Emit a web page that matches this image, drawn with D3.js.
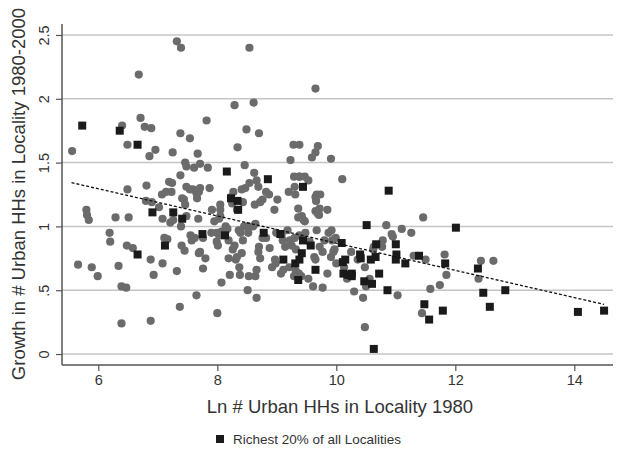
<!DOCTYPE html>
<html>
<head>
<meta charset="utf-8">
<script src="https://cdn.jsdelivr.net/npm/d3@7"></script>
<style>
  body { margin: 0; background: #fff; }
  svg { display: block; font-family: "Liberation Sans", Arial, sans-serif; }
</style>
</head>
<body>
<svg width="621" height="451"></svg>
<script>
// all localities (grey dots)
var greyX = [7.32, 7.39, 8.54, 6.68, 9.65, 8.61, 8.29,
  5.56, 6.40, 6.71, 6.78, 6.89, 6.49, 6.96, 6.86, 7.25, 7.38, 7.54, 7.82, 8.49, 8.70, 8.34, 8.46,
  7.67, 7.61, 7.48, 7.84, 7.71, 9.28, 9.38, 9.69, 9.65, 9.59, 9.23, 9.91, 9.29, 9.38, 10.10, 7.38, 7.46,
  5.80, 5.81, 5.84, 6.49, 6.81, 6.80, 7.02, 7.07, 7.14, 7.19, 7.23, 7.24, 7.41, 7.44, 7.48, 7.54, 7.59,
  7.65, 7.69, 7.66, 7.71, 7.87, 7.91, 8.05, 8.05, 8.03, 8.27, 8.23, 8.25, 8.33, 8.41, 8.43, 8.47, 8.54,
  8.62, 8.66, 8.69, 8.72, 8.63, 8.76, 8.82, 8.87, 8.96, 9.01, 9.20, 9.30, 9.31, 9.38, 9.47, 9.53, 9.65,
  9.67, 9.73, 9.66, 9.85, 9.65, 9.69, 9.72, 9.71, 9.36, 9.36, 9.42, 9.45, 9.47,
  6.19, 6.20, 6.29, 6.51, 6.48, 6.58, 6.90, 7.08, 7.11, 7.16, 7.21, 7.26, 7.39, 7.40, 7.46, 7.48, 7.55,
  7.57, 7.62, 7.68, 7.71, 7.76, 7.90, 7.95, 7.99, 7.99, 8.01, 8.05, 8.07, 8.03, 8.11, 8.14, 8.17, 8.19,
  8.19, 8.26, 8.29, 8.31, 8.33, 8.36, 8.39, 8.41, 8.43, 8.45, 8.51, 8.52, 8.60, 8.64, 8.70, 8.69, 8.76,
  8.82, 8.88, 8.97, 8.99, 9.08, 9.10, 9.14, 9.18, 9.22, 9.25, 9.30, 9.32, 9.38, 9.48, 9.55, 9.63, 9.67,
  9.72, 9.77, 9.80, 9.87, 9.92, 9.93, 9.97, 9.91, 9.99,
  5.66, 5.89, 5.99, 6.34, 6.39, 6.47, 6.88, 6.93, 7.08, 7.32, 7.45, 7.69, 7.76, 7.80, 8.07, 8.21, 8.37,
  8.38, 8.51, 8.53, 8.64, 8.66, 8.66, 8.72, 8.92, 8.98, 9.07, 9.11, 9.21, 9.32, 9.37, 9.29, 9.41, 9.53,
  9.61, 9.65, 9.77, 9.85, 9.95, 10.00, 10.13, 10.18, 10.25, 10.30, 10.36, 10.45, 10.48, 10.50, 10.56,
  10.62, 10.63, 10.77, 10.78, 10.84, 10.93, 10.95, 11.03, 11.10, 11.26, 11.30, 11.46, 11.50, 11.58,
  11.74, 11.82, 11.85, 12.43, 12.39, 12.64, 11.44, 10.48,
  6.39, 6.88, 7.37, 8.00, 7.65];
var greyY = [2.45, 2.40, 2.40, 2.19, 2.08, 1.97, 1.95,
  1.59, 1.79, 1.85, 1.78, 1.77, 1.64, 1.60, 1.55, 1.58, 1.73, 1.69, 1.83, 1.76, 1.73, 1.62, 1.48,
  1.57, 1.46, 1.47, 1.46, 1.49, 1.64, 1.64, 1.63, 1.58, 1.54, 1.52, 1.53, 1.39, 1.39, 1.37, 1.40, 1.50,
  1.13, 1.09, 1.05, 1.29, 1.32, 1.20, 1.15, 1.25, 1.27, 1.35, 1.27, 1.34, 1.22, 1.21, 1.31, 1.29, 1.29,
  1.26, 1.27, 1.22, 1.30, 1.30, 1.13, 1.17, 1.13, 1.06, 1.27, 1.23, 1.18, 1.13, 1.29, 1.19, 1.30, 1.34,
  1.42, 1.36, 1.31, 1.19, 1.17, 1.21, 1.27, 1.25, 1.13, 1.21, 1.27, 1.31, 1.25, 1.39, 1.39, 1.36, 1.23,
  1.25, 1.25, 1.20, 1.13, 1.12, 1.10, 1.14, 1.09, 1.14, 1.07, 1.08, 1.05, 1.04,
  0.95, 0.88, 1.07, 1.07, 0.85, 0.83, 1.19, 1.06, 0.91, 0.90, 1.03, 1.05, 1.00, 0.85, 1.17, 1.08, 0.93,
  0.89, 0.91, 1.06, 0.80, 0.91, 0.95, 1.04, 0.95, 0.88, 0.85, 1.08, 0.96, 0.93, 0.96, 1.00, 0.98, 0.89,
  0.75, 0.82, 0.85, 0.74, 0.76, 0.97, 0.95, 0.79, 0.89, 1.00, 1.00, 0.95, 1.00, 1.02, 0.84, 0.80, 0.91,
  0.91, 0.83, 0.74, 0.95, 0.93, 0.89, 0.84, 0.97, 0.89, 0.85, 0.91, 0.82, 0.93, 0.95, 0.88, 0.76, 0.97,
  0.84, 0.80, 0.89, 0.95, 0.97, 0.89, 0.82, 0.76, 0.91,
  0.70, 0.68, 0.61, 0.69, 0.53, 0.52, 0.74, 0.62, 0.71, 0.65, 0.81, 0.79, 0.67, 0.75, 0.56, 0.62, 0.68,
  0.62, 0.50, 0.61, 0.61, 0.44, 0.66, 0.75, 0.68, 0.71, 0.63, 0.66, 0.68, 0.65, 0.63, 0.61, 0.61, 0.59,
  0.53, 0.74, 0.52, 0.63, 0.80, 0.71, 0.68, 0.59, 0.80, 0.49, 0.74, 0.44, 0.68, 0.53, 0.59,
  0.82, 0.84, 0.84, 0.89, 1.01, 0.94, 0.92, 0.46, 0.98, 0.95, 0.77, 1.07, 0.74, 0.51,
  0.54, 0.78, 0.62, 0.73, 0.59, 0.73, 0.32, 0.21,
  0.24, 0.26, 0.37, 0.32, 0.46];

// richest 20% (black squares)
var richX = [5.73, 6.36, 6.66, 6.91, 7.26, 7.41, 6.66, 7.12, 7.75, 8.16, 8.23, 8.34, 8.35, 8.13, 8.78,
  8.85, 9.06, 9.44, 9.11, 9.31, 9.38, 9.36, 9.44, 9.42, 9.57, 9.65, 10.09, 10.11, 10.15, 10.12, 10.20,
  10.26, 10.26, 10.40, 10.41, 10.51, 10.47, 10.60, 10.58, 10.66, 10.67, 10.72, 10.63, 10.86, 10.88,
  11.00, 11.01, 11.00, 11.16, 11.39, 11.48, 11.56, 11.79, 11.83, 12.01, 12.38, 12.47, 12.58, 12.84,
  14.06, 14.50];
var richY = [1.79, 1.75, 1.64, 1.11, 1.11, 1.06, 0.78, 0.85, 0.94, 1.43, 1.22, 1.20, 1.13, 0.93, 0.95,
  1.37, 0.94, 1.31, 0.74, 0.71, 0.74, 0.58, 0.89, 0.79, 0.85, 0.66, 0.87, 0.72, 0.74, 0.63, 0.62,
  0.63, 0.61, 0.78, 0.75, 1.01, 0.57, 0.55, 0.74, 0.76, 0.86, 0.63, 0.04, 0.50, 1.28,
  0.86, 0.78, 0.74, 0.71, 0.77, 0.39, 0.27, 0.34, 0.71, 0.99, 0.67, 0.48, 0.37, 0.50,
  0.33, 0.34];

// fitted line end points
var fitX = [5.55, 14.5];
var fitY = [1.343, 0.389];

var xTicks = [6, 8, 10, 12, 14];
var yTicks = [0, 0.5, 1, 1.5, 2, 2.5];
var yTickLabels = ["0", ".5", "1", "1.5", "2", "2.5"];

var svg = d3.select("svg");

var x = d3.scaleLinear().domain([5.39, 14.65]).range([62, 613]);
var y = d3.scaleLinear().domain([-0.086, 2.586]).range([365, 24]);

// grid lines
svg.append("g")
  .selectAll("line")
  .data(yTicks)
  .enter()
  .append("line")
  .attr("x1", 62)
  .attr("x2", 613)
  .attr("y1", function(d) { return y(d); })
  .attr("y2", function(d) { return y(d); })
  .attr("stroke", "#c4c4c4")
  .attr("stroke-width", 1.5);

// dots
svg.append("g")
  .selectAll("circle")
  .data(greyX)
  .enter()
  .append("circle")
  .attr("cx", function(d) { return x(d); })
  .attr("cy", function(d, i) { return y(greyY[i]); })
  .attr("r", 4.1)
  .attr("fill", "#6b6b6b");

var sq = 8;
svg.append("g")
  .selectAll("rect")
  .data(richX)
  .enter()
  .append("rect")
  .attr("x", function(d) { return x(d) - sq / 2; })
  .attr("y", function(d, i) { return y(richY[i]) - sq / 2; })
  .attr("width", sq)
  .attr("height", sq)
  .attr("fill", "#1a1a1a");

// fit line
svg.append("path")
  .datum(fitX)
  .attr("d", d3.line()
    .x(function(d) { return x(d); })
    .y(function(d, i) { return y(fitY[i]); }))
  .attr("fill", "none")
  .attr("stroke", "#111")
  .attr("stroke-width", 1.3)
  .attr("stroke-dasharray", "3,2");

// axes
var xAxis = svg.append("g")
  .attr("transform", "translate(0,365)")
  .call(d3.axisBottom(x).tickValues(xTicks).tickSize(6).tickPadding(4).tickSizeOuter(0));
var yAxis = svg.append("g")
  .attr("transform", "translate(62,0)")
  .call(d3.axisLeft(y).tickValues(yTicks).tickSize(6).tickSizeOuter(0)
    .tickFormat(function(d, i) { return yTickLabels[i]; }));

[xAxis, yAxis].forEach(function(a) {
  a.select(".domain").attr("stroke", "#555").attr("stroke-width", 1.5);
  a.selectAll(".tick line").attr("stroke", "#555").attr("stroke-width", 1.2);
  a.selectAll("text").attr("fill", "#333").style("font-size", "14.5px")
    .style("font-family", "'Liberation Sans', Arial, sans-serif");
});
xAxis.select(".domain").attr("d", "M62,0H613");
yAxis.select(".domain").attr("d", "M0,24V365");

// stata style rotated y labels
yAxis.selectAll(".tick text")
  .attr("x", null)
  .attr("dy", null)
  .attr("text-anchor", "middle")
  .attr("transform", "translate(-13,0) rotate(-90)");

// titles
svg.append("text")
  .attr("x", 340)
  .attr("y", 413)
  .attr("text-anchor", "middle")
  .attr("fill", "#333")
  .style("font-size", "18.5px")
  .text("Ln # Urban HHs in Locality 1980");

svg.append("text")
  .attr("transform", "translate(25,194) rotate(-90)")
  .attr("text-anchor", "middle")
  .attr("fill", "#333")
  .style("font-size", "18.5px")
  .text("Growth in # Urban HHs in Locality 1980-2000");

// legend
svg.append("rect")
  .attr("x", 216)
  .attr("y", 435)
  .attr("width", 8)
  .attr("height", 8)
  .attr("fill", "#1a1a1a");
svg.append("text")
  .attr("x", 233)
  .attr("y", 444)
  .attr("fill", "#333")
  .style("font-size", "13.5px")
  .text("Richest 20% of all Localities");
</script>
</body>
</html>
